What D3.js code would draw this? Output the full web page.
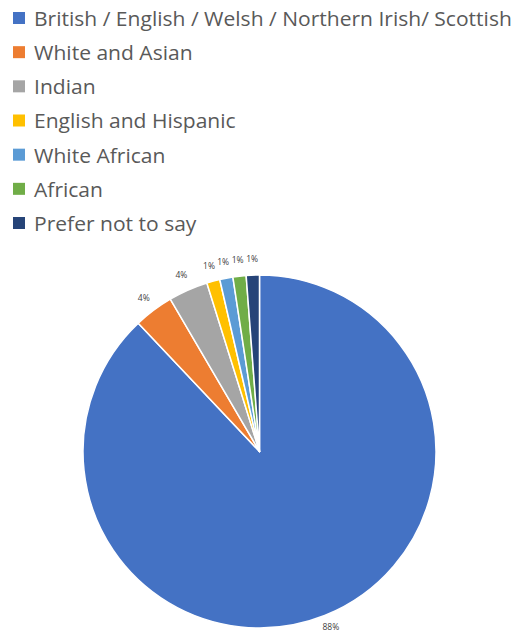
<!DOCTYPE html>
<html><head><meta charset="utf-8">
<script src="https://cdn.jsdelivr.net/npm/d3@7"></script>
<style>body{margin:0;background:#fff}</style>
</head><body>
<svg id="c" width="518" height="635"></svg>
<script>
const categories = ["British / English / Welsh / Northern Irish/ Scottish","White and Asian","Indian","English and Hispanic","White African","African","Prefer not to say"];
const values = [73,3,3,1,1,1,1];
const labels = ["88%","4%","4%","1%","1%","1%","1%"];
const colors = ["#4472C4","#ED7D31","#A5A5A5","#FFC000","#5B9BD5","#70AD47","#264478"];

const svg = d3.select("#c");
const cx = 259.5, cy = 451.5, R = 176.5;

// legend
const leg = svg.append("g").attr("transform","translate(13,0)");
const rowY = d3.scaleLinear().domain([0,6]).range([18,223]);
const items = leg.selectAll("g").data(categories).join("g")
  .attr("transform",(d,i)=>`translate(0,${rowY(i)})`);
items.append("rect").attr("x",0).attr("y",-6).attr("width",12).attr("height",12)
  .attr("fill",(d,i)=>colors[i]);
const tg = items.append("g").attr("transform","translate(21,0)");
const texts = tg.append("text").text(d=>d)
  .attr("font-family","'Open Sans', sans-serif").attr("font-size",20.5)
  .attr("fill","#595959").attr("dominant-baseline","central");
const w0 = texts.nodes()[0].getComputedTextLength();
const sx = 478 / w0;
tg.attr("transform",`translate(21,0) scale(${sx},1)`);

// pie
const pie = d3.pie().sort(null).value(d=>d);
const arcs = pie(values);
const arc = d3.arc().innerRadius(0).outerRadius(R);
const g = svg.append("g").attr("transform",`translate(${cx},${cy})`);
g.selectAll("path").data(arcs).join("path")
  .attr("d",arc).attr("fill",(d,i)=>colors[i])
  .attr("stroke","#fff").attr("stroke-width",1.5).attr("stroke-linejoin","round");

const labArc = d3.arc().innerRadius(193).outerRadius(193);
g.selectAll("text.lab").data(arcs).join("text").attr("class","lab")
  .attr("transform",d=>{const c=labArc.centroid(d);return `translate(${c[0]},${Math.min(c[1],175)})`;})
  .attr("text-anchor","middle").attr("dominant-baseline","central")
  .attr("font-family","'Open Sans', sans-serif").attr("font-size",8.5)
  .attr("fill","#404040").text((d,i)=>labels[i]);
</script>
</body></html>
